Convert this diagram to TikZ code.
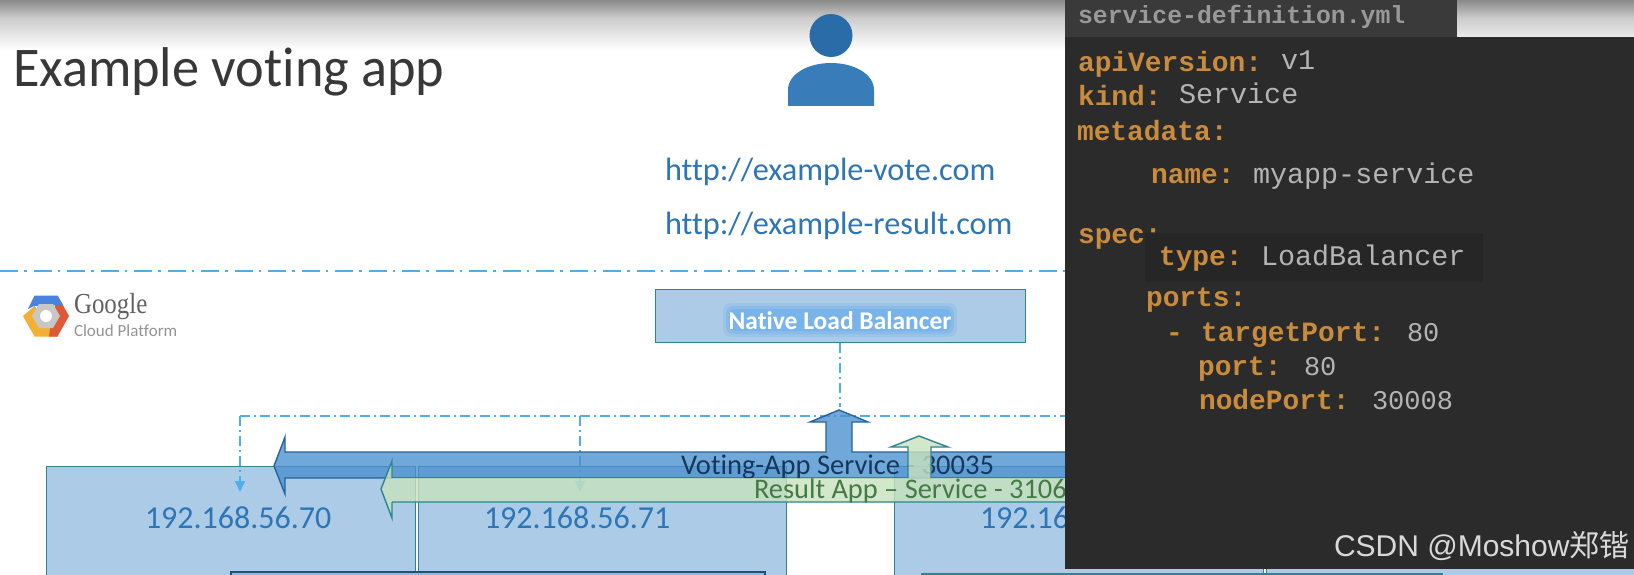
\documentclass[tikz,border=0pt]{standalone}
\usepackage{fontspec}
\usetikzlibrary{arrows.meta}
\setmainfont[Ligatures={NoCommon,TeX}]{Carlito}
\newfontfamily\monof{Liberation Mono}
\newfontfamily\lsans{Liberation Sans}
\newfontfamily\lserif{Liberation Serif}
\newfontfamily\cjkf{Noto Sans CJK SC}
\definecolor{boxfill}{HTML}{ABCBE6}
\definecolor{boxline}{HTML}{2F8490}
\definecolor{dashc}{HTML}{4FADE8}
\definecolor{linkc}{HTML}{2E75B6}
\definecolor{panel}{HTML}{2B2B2B}
\definecolor{tabc}{HTML}{3A3A3A}
\definecolor{overlayc}{HTML}{262626}
\definecolor{keyc}{HTML}{C98B3E}
\definecolor{valc}{HTML}{B4B4B4}
\definecolor{votefill}{HTML}{4A90D0}
\definecolor{resfill}{HTML}{C8E2BE}
\definecolor{navy}{HTML}{15375E}
\definecolor{restext}{HTML}{467A45}
\definecolor{glow}{HTML}{5FA8EC}
\definecolor{gyellow}{HTML}{F2B134}
\definecolor{gred}{HTML}{DC5A35}
\definecolor{gblue}{HTML}{4A82E0}
\tikzset{
  txt/.style={inner sep=0pt,outer sep=0pt,anchor=base west},
  vm/.style={fill=boxfill,draw=boxline,line width=1.4pt},
  bigdash/.style={dashc,line width=2.6pt,dash pattern=on 18pt off 6pt on 2.5pt off 7pt},
  smalldash/.style={dashc,line width=1.6pt,dash pattern=on 10pt off 4pt on 2pt off 4pt},
  key/.style={txt,text=keyc,font=\monof\bfseries\fontsize{27.9}{30}\selectfont},
  val/.style={txt,text=valc,font=\monof\fontsize{28.4}{30}\selectfont},
  num/.style={txt,text=valc,font=\monof\fontsize{27}{30}\selectfont},
  ip/.style={txt,text=linkc,font=\fontsize{32}{34}\selectfont},
  url/.style={txt,text=linkc,font=\fontsize{32.3}{34}\selectfont},
  svc/.style={line width=1.4pt,draw=#1},
}
\begin{document}
\begin{tikzpicture}[x=1pt,y=-1pt]
\useasboundingbox (0,0) rectangle (1634,575);
\clip (0,0) rectangle (1634,575);
\fill[white] (0,0) rectangle (1634,575);
% top gradient
\shade[top color=black!46,bottom color=black!20] (0,0) rectangle (1634,18);
\shade[top color=black!20,bottom color=white] (0,18) rectangle (1634,50);
\node[txt,text=black!78,font=\fontsize{56}{60}\selectfont] (title) at (13,87) {\scalebox{.97}[1]{Example voting app}};
% person
\fill[linkc!92!black] (831,35.5) ellipse (21.5 and 21.5);
\fill[linkc!95!white] (788,106) -- (788,90) .. controls (788,74) and (808,63) .. (831,63) .. controls (854,63) and (874,74) .. (874,90) -- (874,106) -- cycle;
\node[url] (url1) at (665,181) {http://example-vote.com};
\node[url] (url2) at (665,234) {http://example-result.com};
\coordinate (sepL) at (0,271);
\coordinate (sepR) at (1066,271);
\draw[bigdash] (sepL) -- (sepR);
% logo
\begin{scope}[shift={(46,316)}]
  \fill[gyellow] (-23,0) -- (-11.5,-10) -- (11,20.5) -- (-11.5,20.5) -- cycle;
  \fill[gred] (11.5,-20.5) -- (23,0) -- (11.5,20.5) -- (3,20.5) -- (5,5) -- cycle;
  \fill[gblue] (-11.5,-20.5) -- (11.5,-20.5) -- (17,-11) -- (-12,-10) -- (-18,-7) -- cycle;
  \fill[black!22] (-14,0) -- (-7,-12) -- (7,-12) -- (14,0) -- (7,12) -- (-7,12) -- cycle;
  \fill[white] (0,0) circle (6);
\end{scope}
\node[txt,text=black!62,font=\lserif\fontsize{29}{30}\selectfont] (google) at (74,313) {\scalebox{.86}[1]{Google}};
\node[txt,text=black!42,font=\fontsize{17}{22}\selectfont] (gcp) at (74,336) {Cloud Platform};
% load balancer
\node[vm,inner sep=0pt,minimum width=370pt,minimum height=53pt,anchor=north west] (lb) at (655,289) {};
\fill[glow,opacity=.18,rounded corners=8pt] (723,303) rectangle (957,337);
\fill[glow,opacity=.3,rounded corners=7pt] (726,306) rectangle (954,334);
\fill[glow,opacity=.4,rounded corners=6pt] (729,309) rectangle (951,331);
\node[txt,anchor=base,text=white,font=\bfseries\fontsize{25.5}{28}\selectfont] (lbt) at (840,329) {Native Load Balancer};
% node boxes
\node[vm,anchor=north west,inner sep=0pt,minimum width=369pt,minimum height=140pt] (n1) at (46,466) {};
\node[vm,anchor=north west,inner sep=0pt,minimum width=368pt,minimum height=140pt] (n2) at (417.5,466) {};
\node[vm,anchor=north west,inner sep=0pt,minimum width=369pt,minimum height=140pt] (n3) at (894,466) {};
\node[vm,anchor=north west,inner sep=0pt,minimum width=400pt,minimum height=140pt] (n4) at (1266,466) {};
\node[fill=boxfill!80!linkc,draw=linkc!70!black,line width=1.5pt,anchor=north west,inner sep=0pt,minimum width=534pt,minimum height=40pt] (pod1) at (230,571) {};
\node[fill=boxfill!80!linkc,draw=boxline,line width=1.5pt,anchor=north west,inner sep=0pt,minimum width=520pt,minimum height=40pt] (pod2) at (921,573) {};
\node[ip] (ip1) at (145,528) {192.168.56.70};
\node[ip] (ip2) at (484,528) {192.168.56.71};
\node[ip] (ip3) at (980,528) {192.16};
% dash-dot connectors
\coordinate (busL) at (240,416);
\coordinate (busM) at (580,416);
\coordinate (busR) at (1066,416);
\coordinate (t1) at (240,492);
\coordinate (t2) at (580,492);
\coordinate (lbdown) at (840,407);
\draw[smalldash] (lb.south -| lbdown) -- (lbdown);
\draw[smalldash] (busL) -- (busR);
\draw[smalldash,-{Triangle[width=10pt,length=11pt]}] (busL) -- (t1);
\draw[smalldash,-{Triangle[width=10pt,length=11pt]}] (busM) -- (t2);
% voting arrow
\fill[votefill,opacity=.78] (274,466) -- (285,437) -- (285,452) -- (826,452) -- (826,422) -- (810,422) -- (839,410) -- (868,422) -- (852,422) -- (852,452) -- (1070,452) -- (1070,478) -- (285,478) -- (285,494) -- cycle;
\draw[svc=linkc!85!black] (274,466) -- (285,437) -- (285,452) -- (826,452) -- (826,422) -- (810,422) -- (839,410) -- (868,422) -- (852,422) -- (852,452) -- (1070,452) -- (1070,478) -- (285,478) -- (285,494) -- cycle;
\node[txt,text=navy,font=\fontsize{28.5}{30}\selectfont] (vtxt) at (681,474) {Voting-App Service - 30035};
% result arrow
\fill[resfill,opacity=.8] (381,489) -- (392,461) -- (392,478) -- (908,478) -- (908,447) -- (891,447) -- (919,436) -- (948,447) -- (931,447) -- (931,478) -- (1070,478) -- (1070,502) -- (392,502) -- (392,518) -- cycle;
\draw[svc=boxline] (381,489) -- (392,461) -- (392,478) (392,502) -- (392,518) -- (381,489) (392,502) -- (1070,502) (908,478) -- (908,447) -- (891,447) -- (919,436) -- (948,447) -- (931,447) -- (931,478);
\node[txt,text=restext,font=\fontsize{28.4}{30}\selectfont] (rtxt) at (754,498) {Result App – Service - 3106};
% yaml panel
\fill[panel] (1065,37) rectangle (1634,569);
\fill[tabc] (1065,0) rectangle (1457,37);
\node[txt,text=black!40,font=\monof\bfseries\fontsize{24.8}{28}\selectfont] (file) at (1078,24) {service-definition.yml};
\node[key] (k1) at (1078,72) {apiVersion:};
\node[val] (v1) at (1281,70) {v1};
\node[key] (k2) at (1078,106) {kind:};
\node[val] (v2) at (1179,104) {Service};
\node[key] (k3) at (1077,141) {metadata:};
\node[key] (k4) at (1151,183) {name:};
\node[val] (v4) at (1253,183) {myapp-service};
\node[key] (k5) at (1078,243) {spec:};
\fill[overlayc] (1145,233) rectangle (1483,282);
\node[key] (k6) at (1159,265) {type:};
\node[val] (v6) at (1261,265) {LoadBalancer};
\node[key] (k7) at (1146,306) {ports:};
\node[key] (k8a) at (1166,341) {-};
\node[key] (k8) at (1201,341) {targetPort:};
\node[num] (v8) at (1407,341) {80};
\node[key] (k9) at (1198,375) {port:};
\node[num] (v9) at (1304,375) {80};
\node[key] (k10) at (1199,409) {nodePort:};
\node[num] (v10) at (1372,409) {30008};
\node[txt,text=black!15,font=\lsans\fontsize{30}{32}\selectfont] (wm) at (1334,556) {CSDN @Moshow{\cjkf 郑锴}};
\end{tikzpicture}
\end{document}
